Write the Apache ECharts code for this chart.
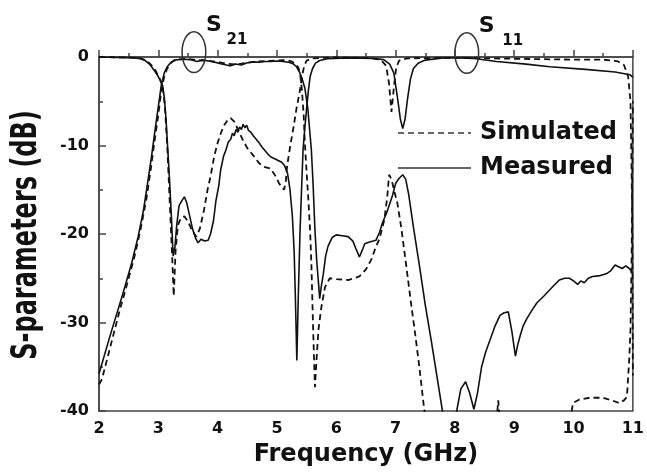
<!DOCTYPE html>
<html>
<head>
<meta charset="utf-8">
<style>
  html, body { margin: 0; padding: 0; background: #fff; }
  #main { width: 647px; height: 472px; }
</style>
</head>
<body>
<div id="main"></div>
<script src="https://cdn.jsdelivr.net/npm/echarts@6/dist/echarts.min.js"></script>
<script>
// S11 measured (solid)
var s11MeasF = [2.0, 2.3, 2.6, 2.7, 2.78, 2.85, 2.92, 2.98, 3.03, 3.07, 3.1, 3.13, 3.16, 3.19, 3.22, 3.25, 3.28, 3.31, 3.35, 3.4,
  3.44, 3.48, 3.53, 3.58, 3.63, 3.67, 3.72, 3.78, 3.84, 3.88, 3.93, 3.97, 4.02, 4.05, 4.1, 4.14, 4.18, 4.22, 4.25, 4.28,
  4.31, 4.34, 4.37, 4.4, 4.43, 4.46, 4.49, 4.52, 4.56, 4.6, 4.65, 4.7, 4.75, 4.8, 4.85, 4.9, 4.96, 5.02, 5.08, 5.13,
  5.18, 5.22, 5.26, 5.29, 5.31, 5.335, 5.36, 5.39, 5.42, 5.44, 5.47, 5.5, 5.53, 5.56, 5.6, 5.65, 5.72, 5.85, 6.2, 6.6,
  6.8, 6.9, 6.97, 7.03, 7.08, 7.12, 7.16, 7.2, 7.25, 7.3, 7.38, 7.5, 7.8, 8.1, 8.3, 8.7, 9.2, 9.6, 10.2, 10.7,
  10.95, 11.0];
var s11MeasDb = [0, -0.05, -0.1, -0.2, -0.4, -0.8, -1.4, -2.0, -2.6, -3.2, -4.5, -7, -10.5, -14, -18, -22.5, -21.5, -19, -16.8, -16.2,
  -15.8, -16.5, -18, -19.5, -20.5, -21, -20.6, -20.8, -20.7, -20, -18.5, -16.3, -14.5, -12.8, -11.2, -10.5, -9.6, -9.3, -8.6, -8.9,
  -8.2, -8.5, -7.9, -8.2, -7.6, -8.0, -7.7, -8.3, -8.5, -8.9, -9.3, -9.7, -10.2, -10.6, -11.0, -11.3, -11.5, -11.7, -11.9, -12.3,
  -13.2, -15, -18, -22, -27, -34.3, -27, -19.5, -14, -10.5, -8, -5.8, -3.8, -2.2, -1.3, -0.7, -0.4, -0.2, -0.1, -0.15,
  -0.3, -0.8, -1.8, -4.5, -7, -8.1, -7, -4.8, -2.5, -1.3, -0.7, -0.35, -0.1, -0.1, -0.15, -0.5, -0.8, -1.1, -1.4, -1.7,
  -2.0, -2.3];

// S11 simulated (dashed)
var s11SimF = [2.0, 2.5, 2.7, 2.8, 2.88, 2.95, 3.02, 3.07, 3.11, 3.15, 3.19, 3.23, 3.26, 3.29, 3.33, 3.38, 3.44, 3.5, 3.57, 3.64,
  3.7, 3.77, 3.83, 3.88, 3.94, 4.0, 4.06, 4.11, 4.17, 4.22, 4.28, 4.35, 4.42, 4.5, 4.61, 4.7, 4.78, 4.89, 4.97, 5.03,
  5.08, 5.12, 5.15, 5.17, 5.22, 5.28, 5.33, 5.39, 5.42, 5.46, 5.5, 5.6, 6.0, 6.5, 6.75, 6.84, 6.89, 6.93, 6.97, 7.01,
  7.06, 7.2, 8.0, 9.0, 10.0, 10.5, 10.75, 10.85, 10.92, 10.96, 10.99, 11.0];
var s11SimDb = [0, -0.05, -0.15, -0.4, -0.9, -1.5, -2.4, -3.2, -5.5, -10, -16, -22, -27, -22, -19, -18.2, -18.0, -18.6, -19.6, -20.3,
  -19.4, -17.3, -15, -13.5, -11.3, -9.7, -8.5, -7.7, -7.1, -6.9, -7.3, -8.3, -9.3, -10.3, -11.2, -12.0, -12.4, -12.6, -13.4, -14.2,
  -14.7, -15.0, -14, -12.4, -10.2, -7.9, -5.8, -3.7, -2.2, -1.0, -0.4, -0.15, -0.05, -0.1, -0.3, -1.0, -3, -6.2, -3.5, -1.2,
  -0.4, -0.15, -0.1, -0.2, -0.3, -0.3, -0.5, -0.9, -2.2, -5, -18, -36];

// S21 measured (solid)
var s21MeasF = [2.0, 2.2, 2.4, 2.55, 2.66, 2.75, 2.82, 2.88, 2.94, 3.0, 3.05, 3.1, 3.15, 3.2, 3.27, 3.4, 3.55, 3.65, 3.75, 3.85,
  3.95, 4.05, 4.15, 4.22, 4.3, 4.4, 4.5, 4.6, 4.7, 4.8, 4.9, 5.0, 5.1, 5.2, 5.28, 5.33, 5.38, 5.43, 5.47, 5.52,
  5.58, 5.61, 5.64, 5.67, 5.7, 5.72, 5.75, 5.78, 5.82, 5.86, 5.93, 6.0, 6.1, 6.2, 6.28, 6.34, 6.39, 6.44, 6.48, 6.56,
  6.67, 6.73, 6.78, 6.85, 6.9, 6.95, 7.0, 7.06, 7.12, 7.17, 7.22, 7.3, 7.4, 7.5, 7.6, 7.7, 7.79, 7.92, 8.03, 8.1,
  8.18, 8.25, 8.32, 8.38, 8.45, 8.52, 8.59, 8.67, 8.76, 8.83, 8.9, 8.96, 9.02, 9.06, 9.1, 9.15, 9.21, 9.3, 9.38, 9.5,
  9.6, 9.7, 9.76, 9.85, 9.93, 10.0, 10.07, 10.12, 10.18, 10.25, 10.32, 10.45, 10.55, 10.62, 10.7, 10.76, 10.82, 10.88, 10.94, 11.0];
var s21MeasDb = [-35.8, -31.2, -26.8, -23.3, -20.3, -17.3, -14.2, -11.5, -8.5, -5.6, -3.2, -1.8, -1.1, -0.7, -0.35, -0.25, -0.3, -0.5, -0.35, -0.45,
  -0.6, -0.75, -0.9, -1.0, -0.8, -0.9, -0.65, -0.55, -0.6, -0.5, -0.5, -0.45, -0.5, -0.6, -0.8, -1.1, -1.7, -2.6, -3.5, -5.8,
  -10.5, -14.5, -19.5, -23, -25.5, -27.3, -25.8, -24.6, -22.5, -21.4, -20.4, -20.1, -20.2, -20.3, -20.8, -21.8, -22.6, -21.8, -21.1, -20.9,
  -20.7, -19.8, -18.7, -17.6, -16.6, -15.6, -14.3, -13.7, -13.3, -13.8, -15.5, -19.2, -23.5, -28, -32, -36.2, -40, -43, -40, -37.5,
  -36.7, -38, -39.8, -38, -35, -33.3, -32, -30.5, -29.2, -28.9, -28.8, -31, -33.8, -32.5, -31.5, -30.4, -29.6, -28.6, -27.8, -27,
  -26.3, -25.6, -25.2, -25.0, -25.0, -25.3, -25.7, -25.3, -25.5, -25.0, -24.8, -24.7, -24.5, -24.2, -23.5, -23.7, -23.9, -23.6, -23.9, -24.4];

// S21 simulated (dashed)
var s21SimF = [2.0, 2.05, 2.2, 2.35, 2.46, 2.6, 2.7, 2.8, 2.87, 2.93, 3.0, 3.05, 3.1, 3.15, 3.22, 3.3, 3.45, 3.6, 3.8, 4.0,
  4.15, 4.3, 4.45, 4.6, 4.8, 5.0, 5.15, 5.25, 5.32, 5.36, 5.39, 5.42, 5.45, 5.47, 5.5, 5.53, 5.56, 5.58, 5.61, 5.64,
  5.67, 5.7, 5.75, 5.81, 5.89, 6.0, 6.2, 6.39, 6.5, 6.59, 6.66, 6.73, 6.81, 6.86, 6.89, 6.93, 6.98, 7.03, 7.1, 7.18,
  7.26, 7.33, 7.4, 7.48, 7.55, 8.65, 8.71, 8.73, 8.75, 8.8, 9.9, 9.99, 10.1, 10.27, 10.49, 10.65, 10.77, 10.85, 10.9, 10.94,
  10.96, 10.98, 11.0];
var s21SimDb = [-37, -36.4, -32.5, -28.6, -26, -22.5, -19.5, -16, -12.8, -9.8, -6.5, -3.8, -2.2, -1.3, -0.6, -0.3, -0.2, -0.3, -0.4, -0.55,
  -0.75, -0.85, -0.7, -0.55, -0.45, -0.4, -0.35, -0.5, -0.8, -1.2, -1.8, -3.7, -6.5, -9.7, -13, -16.2, -19.8, -23.3, -30.8, -37.3,
  -33.9, -30.8, -28.2, -26, -25, -25.1, -25.2, -24.8, -24, -22.9, -21.6, -20.5, -18.4, -15.8, -13.3, -13.8, -15.2, -16.5, -19.5, -23.6,
  -27.8, -31.3, -35, -39.7, -43, -43, -40.5, -38.8, -40.5, -43, -43, -39.1, -38.7, -38.5, -38.5, -38.8, -39.1, -38.8, -38.4, -34,
  -30.8, -22, -5];

var seriesNames = ['Simulated', 'Measured'];
var xTitle = 'Frequency (GHz)';
var yTitle = 'S-parameters (dB)';

function pairs(f, d) {
  return f.map(function (v, i) { return [v, d[i]]; });
}

var FONT = '"DejaVu Sans", sans-serif';
var INK = '#111';
var AXIS = '#444';

var chart = echarts.init(document.getElementById('main'), null, { renderer: 'canvas' });

function lineSeries(name, data, dashed) {
  return {
    name: name,
    type: 'line',
    data: data,
    symbol: 'none',
    clip: true,
    animation: false,
    lineStyle: { color: INK, width: dashed ? 1.8 : 1.6, type: dashed ? [6, 4] : 'solid' },
    itemStyle: { color: INK }
  };
}

var option = {
  backgroundColor: '#fff',
  animation: false,
  grid: {
    left: 99, right: 10, top: 57, bottom: 61,
    show: true, borderColor: AXIS, borderWidth: 1.5, backgroundColor: 'transparent'
  },
  legend: {
    orient: 'vertical',
    left: 397,
    top: 121,
    padding: 0,
    itemWidth: 73,
    itemHeight: 14,
    itemGap: 11,
    data: seriesNames,
    itemStyle: { color: 'transparent', borderWidth: 0, opacity: 0 },
    lineStyle: { color: '#666', width: 2 },
    textStyle: { fontFamily: FONT, fontWeight: 'bold', fontSize: 24, color: INK, padding: [0, 0, 0, 4] }
  },
  xAxis: {
    type: 'value',
    min: 2, max: 11, interval: 1,
    name: xTitle,
    nameLocation: 'middle',
    nameGap: 32,
    nameTextStyle: { fontFamily: FONT, fontWeight: 'bold', fontSize: 24, color: INK },
    axisLine: { lineStyle: { color: AXIS, width: 1.5 } },
    axisTick: { inside: true, length: 7, lineStyle: { color: AXIS, width: 1.5 } },
    minorTick: { show: true, splitNumber: 2, length: 4, lineStyle: { color: AXIS, width: 1.5 } },
    axisLabel: { fontFamily: FONT, fontWeight: 'bold', fontSize: 16, color: INK, margin: 10 },
    splitLine: { show: false }
  },
  yAxis: {
    type: 'value',
    min: -40, max: 0, interval: 10,
    axisLine: { lineStyle: { color: AXIS, width: 1.5 } },
    axisTick: { inside: true, length: 7, lineStyle: { color: AXIS, width: 1.5 } },
    minorTick: { show: true, splitNumber: 2, length: 4, lineStyle: { color: AXIS, width: 1.5 } },
    axisLabel: { fontFamily: FONT, fontWeight: 'bold', fontSize: 16, color: INK, margin: 10 },
    splitLine: { show: false }
  },
  series: [
    lineSeries('Simulated', pairs(s11SimF, s11SimDb), true),
    lineSeries('Simulated', pairs(s21SimF, s21SimDb), true),
    lineSeries('Measured', pairs(s11MeasF, s11MeasDb), false),
    lineSeries('Measured', pairs(s21MeasF, s21MeasDb), false)
  ]
};

chart.setOption(option);

// annotations placed from data coordinates
function px(pt) { return chart.convertToPixel({ gridIndex: 0 }, pt); }

function marker(center, label, sub, subOffX) {
  var c = px(center);
  var e = px([center[0] + 0.2, center[1] - 2.3]);
  var rx = e[0] - c[0], ry = e[1] - c[1];
  return [
    { type: 'ellipse', shape: { cx: c[0], cy: c[1], rx: rx, ry: ry }, style: { fill: 'transparent', stroke: '#333', lineWidth: 1.5 }, z: 10 },
    { type: 'text', x: c[0] + 20, y: c[1] - 27, style: { text: label, font: 'bold 22px ' + FONT, fill: INK, align: 'center', verticalAlign: 'middle' }, z: 10 },
    { type: 'text', x: c[0] + subOffX, y: c[1] - 12, style: { text: sub, font: 'bold 15px ' + FONT, fill: INK, align: 'center', verticalAlign: 'middle' }, z: 10 }
  ];
}

var gfx = [].concat(
  marker([3.6, 0.55], 'S', '21', 43),
  marker([8.2, 0.45], 'S', '11', 46),
  [{
    type: 'text', x: 27, y: 235, rotation: Math.PI / 2, scaleY: 1.45,
    style: { text: yTitle, font: 'bold 24px ' + FONT, fill: INK, align: 'center', verticalAlign: 'middle' }
  }]
);

chart.setOption({ graphic: gfx });
</script>
</body>
</html>
